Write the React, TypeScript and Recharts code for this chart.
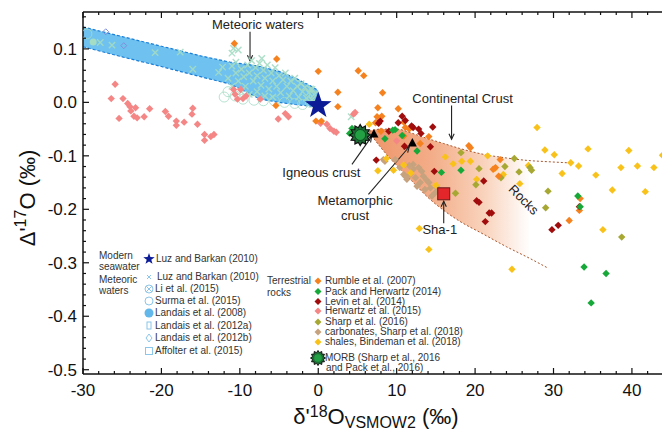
import React from 'react';
import { ComposedChart, XAxis, YAxis, Scatter, Area, Line, ReferenceLine } from 'recharts';

// axis setup
const X_DOMAIN = [-30, 44.6];
const Y_DOMAIN = [-0.508, 0.169];
const xMajor = [-30, -20, -10, 0, 10, 20, 30, 40];
const yMajor = [0.1, 0.0, -0.1, -0.2, -0.3, -0.4, -0.5];

const minorTicks = (from: number, to: number, step: number) => {
  const out: number[] = [];
  for (let v = from; v <= to + 1e-9; v += step) out.push(Math.round(v * 1000) / 1000);
  return out;
};
const xTicks = minorTicks(-30, 44, 2);
const yTicks = minorTicks(-0.5, 0.16, 0.02);

// meteoric water band (lower / upper edge)
const bandX = [-30, -25, -20, -15, -11.2, -9, -7.4, -5, -3, -1, 0];
const bandUpper = [0.141, 0.123, 0.105, 0.087, 0.075, 0.071, 0.067, 0.058, 0.046, 0.031, 0.022];
const bandLower = [0.104, 0.085, 0.067, 0.048, 0.034, 0.018, 0.006, 0.0, -0.004, -0.007, -0.008];

// rocks wedge
const rockX = [6.5, 8, 10, 12, 14, 16, 18, 21, 24, 27, 29.3];
const rockUpper = [-0.054, -0.05, -0.05, -0.058, -0.068, -0.077, -0.086, -0.097, -0.104, -0.109, -0.111];
const rockLower = [-0.056, -0.085, -0.118, -0.148, -0.178, -0.202, -0.222, -0.246, -0.27, -0.292, -0.31];
const rockUpperTail = [31.8, -0.113];

// meteoric waters
const meteoricX = [
  [-26.3, 0.107], [-20.8, 0.093], [-17.6, 0.094], [-16.0, 0.062], [-12.7, 0.056], [-12.2, 0.066],
  [-11.0, 0.068], [-10.8, 0.101], [-10.2, 0.098], [-11.0, 0.092], [-27.8, 0.112],
  [-11.5, 0.045], [-11.0, 0.03], [-10.5, 0.055], [-10.2, 0.04], [-9.8, 0.062], [-9.5, 0.048],
  [-9.3, 0.03], [-9.0, 0.07], [-8.8, 0.055], [-8.5, 0.078], [-8.3, 0.04], [-8.0, 0.065],
  [-7.8, 0.05], [-7.5, 0.073], [-7.3, 0.032], [-7.0, 0.06], [-6.8, 0.045], [-6.5, 0.07],
  [-6.3, 0.025], [-6.0, 0.055], [-5.8, 0.04], [-5.5, 0.065], [-5.3, 0.03], [-5.0, 0.05],
  [-4.8, 0.018], [-4.5, 0.042], [-4.2, 0.055], [-4.0, 0.03], [-3.7, 0.012], [-3.5, 0.04],
  [-3.2, 0.022], [-3.0, 0.045], [-2.7, 0.03], [-2.5, 0.01], [-2.2, 0.035], [-2.0, 0.02],
  [-1.7, 0.028], [-1.5, 0.008], [-1.2, 0.018], [-1.0, 0.025], [-0.8, 0.005], [-0.5, 0.015],
  [-9.8, 0.02], [-8.8, 0.015], [-7.8, 0.02], [-6.8, 0.012], [-5.8, 0.01], [-10.5, 0.075],
  [-7.2, 0.082], [4.2, -0.027], [-0.8, 0.024],
];
const meteoricO = [
  [-29.5, 0.128], [-10.6, 0.012], [-9.6, 0.006], [-8.2, 0.004], [-7.0, 0.003], [-5.6, 0.003],
  [-4.3, 0.0], [-3.0, -0.002], [-2.0, -0.004], [-1.0, 0.0], [-0.5, 0.012], [-11.5, 0.02], [-12, 0.01],
];
const landais2008 = [[-28.7, 0.113]];
const landais2012b = [[-27.1, 0.132], [-24.8, 0.106]];

// terrestrial rocks
const rumble = [
  [-10.7, 0.11], [-5.3, 0.081], [0.0, 0.058], [-5.4, -0.006], [-0.3, -0.035], [0.4, -0.035],
  [5.1, 0.059], [5.8, 0.05], [2.5, 0.019], [8.2, 0.018], [2.5, -0.008], [7.6, -0.01],
  [10.2, -0.012], [8.1, -0.026], [7.5, -0.027], [7.3, -0.038], [10.9, -0.037], [11.1, -0.047],
  [10.9, -0.063], [8.0, -0.054], [13.0, -0.077], [14.1, -0.064], [19.2, -0.081], [19.4, -0.085],
  [23.2, -0.107], [22.3, -0.125], [22.6, -0.122], [23.0, -0.138], [33.4, -0.18], [33.3, -0.202],
  [32.0, -0.221], [11.6, -0.05],
];
const packHerwartz = [
  [4.3, -0.049], [9.8, -0.051], [10.7, -0.062], [8.5, -0.068], [9.5, -0.052], [12.6, -0.091],
  [15.7, -0.131], [18.2, -0.127], [33.1, -0.175], [33.4, -0.195], [33.9, -0.308], [36.7, -0.32],
  [34.8, -0.375], [4.0, -0.058],
];
const levin = [
  [7.9, -0.035], [7.7, -0.039], [10.7, -0.026], [11.1, -0.034], [12.1, -0.047], [14.6, -0.046],
  [9.0, -0.054], [13.1, -0.058], [11.0, -0.082], [14.3, -0.083], [7.4, -0.108], [14.8, -0.129],
  [21.1, -0.147], [20.2, -0.184], [20.5, -0.187], [21.8, -0.207], [22.1, -0.207], [21.3, -0.223],
  [29.8, -0.238], [30.6, -0.23], [33.3, -0.195], [10.2, -0.038], [11.9, -0.044], [12.8, -0.05],
];
const herwartz = [
  [-25.9, 0.034], [-26.4, 0.007], [-25.4, -0.03], [-24.9, 0.007], [-24.3, -0.002], [-24.0, -0.008],
  [-23.9, -0.016], [-23.3, -0.01], [-23.5, -0.026], [-23.1, -0.029], [-22.2, -0.027], [-21.5, -0.012],
  [-19.5, -0.017], [-19.1, -0.026], [-18.1, -0.035], [-18.1, -0.043], [-17.1, -0.037], [-16.0, -0.011],
  [-16.1, -0.022], [-15.4, -0.041], [-14.5, -0.06], [-14.5, -0.071], [-13.7, -0.064], [-13.3, -0.06],
  [-10.8, 0.024], [-10.6, 0.015], [-9.6, 0.007], [-9.2, 0.012], [-10.3, 0.006], [-9.9, 0.024],
  [-7.4, 0.006], [-5.1, -0.031], [-4.2, -0.021], [-3.8, -0.027], [1.1, -0.041], [1.5, -0.049],
  [2.0, -0.054], [2.3, -0.056], [4.5, -0.022], [4.7, -0.019], [0.3, -0.039], [10.0, -0.072],
];
const sharp2016 = [
  [18.2, -0.094], [20.5, -0.124], [23.8, -0.12], [23.3, -0.141], [25.6, -0.13], [27.0, -0.122],
  [27.2, -0.127], [25.0, -0.105], [17.5, -0.17], [29.3, -0.166], [29.0, -0.197], [20.1, -0.154],
  [38.7, -0.252],
];
const carbonates = [
  [9.8, -0.107], [10.4, -0.122], [11.3, -0.144], [12.1, -0.125], [12.8, -0.122], [12.4, -0.141],
  [13.4, -0.138], [13.0, -0.15], [14.1, -0.15], [14.3, -0.16], [14.9, -0.169], [13.6, -0.163],
  [14.5, -0.175], [11.7, -0.135], [12.6, -0.157], [13.2, -0.129], [12.1, -0.116], [10.9, -0.135],
  [8.3, -0.107], [8.5, -0.11], [11.1, -0.138], [11.6, -0.118], [13.8, -0.145], [15.2, -0.16],
];
const shales = [
  [6.5, -0.041], [7.6, -0.128], [8.7, -0.105], [9.6, -0.127], [10.9, -0.117], [11.8, -0.132],
  [15.0, -0.155], [16.2, -0.102], [17.2, -0.115], [18.3, -0.11], [19.4, -0.11], [21.6, -0.1],
  [22.5, -0.124], [23.6, -0.135], [25.7, -0.152], [26.8, -0.118], [27.9, -0.047], [28.9, -0.089],
  [30.1, -0.098], [31.1, -0.133], [32.2, -0.113], [33.2, -0.119], [34.4, -0.087], [35.4, -0.136],
  [37.5, -0.164], [38.6, -0.122], [39.6, -0.09], [40.7, -0.119], [41.7, -0.167], [42.8, -0.122],
  [43.9, -0.099], [36.3, -0.238], [24.7, -0.312], [12.9, -0.236], [14.1, -0.275], [20.2, -0.144],
];
const seawater = [[0.0, -0.006]];
const morb = [[5.35, -0.061]];
const crustTriangles = [[7.1, -0.059], [12.0, -0.076]];
const sha1 = [[16.0, -0.171]];

// annotations
const notes = [
  { x: -7.7, y: 0.146, text: 'Meteoric waters', rot: 0 },
  { x: 18.4, y: 0.0075, text: 'Continental Crust', rot: 0 },
  { x: 0.4, y: -0.131, text: 'Igneous crust', rot: 0 },
  { x: 4.7, y: -0.183, text: 'Metamorphic', rot: 0 },
  { x: 4.7, y: -0.212, text: 'crust', rot: 0 },
  { x: 15.5, y: -0.237, text: 'Sha-1', rot: 0 },
  { x: 26.2, y: -0.182, text: 'Rocks', rot: 45 },
];
const arrows = [
  [[-8.7, 0.132], [-8.7, 0.078]],
  [[17.0, -0.006], [17.0, -0.069]],
  [[4.3, -0.116], [6.8, -0.064]],
  [[6.4, -0.172], [11.6, -0.083]],
  [[16.0, -0.226], [16.0, -0.185]],
];

const waterLegend = [
  'Luz and Barkan (2010)', 'Li et al. (2015)', 'Surma et al. (2015)', 'Landais et al. (2008)',
  'Landais et al. (2012a)', 'Landais et al. (2012b)', 'Affolter et al. (2015)',
];
const rockLegend = [
  'Rumble et al. (2007)', 'Pack and Herwartz (2014)', 'Levin et al. (2014)', 'Herwartz et al. (2015)',
  'Sharp et al. (2016)', 'carbonates, Sharp et al. (2018)', 'shales, Bindeman et al. (2018)',
];

const C = {
  rumble: '#f5821f', pack: '#17a83a', levin: '#a10c0c', herwartz: '#f58686',
  sharp: '#a6a833', carb: '#c6a27e', shale: '#f9c21b', mint: '#a4dcc4', legendBlue: '#8cc6ea',
};

const pts = (a: number[][]) => a.map(([x, y]) => ({ x, y }));
const bandData = bandX.map((x, i) => ({ x, band: [bandLower[i], bandUpper[i]] }));
const rockData = rockX.map((x, i) => ({ x, band: [rockLower[i], rockUpper[i]] }));
const rockUpperLine = [...rockX.map((x, i) => ({ x, y: rockUpper[i] })), { x: rockUpperTail[0], y: rockUpperTail[1] }];
const rockLowerLine = rockX.map((x, i) => ({ x, y: rockLower[i] }));

const starPts = (cx: number, cy: number, ro: number, ri: number, n: number) => {
  const p: string[] = [];
  for (let i = 0; i < n * 2; i++) {
    const r = i % 2 === 0 ? ro : ri;
    const a = -Math.PI / 2 + (i * Math.PI) / n;
    p.push(`${cx + r * Math.cos(a)},${cy + r * Math.sin(a)}`);
  }
  return p.join(' ');
};

const diamond = (color: string) => (p: any) => {
  const { cx, cy } = p;
  if (cx == null || cy == null) return <g />;
  const r = 3.7;
  return <polygon points={`${cx},${cy - r} ${cx + r},${cy} ${cx},${cy + r} ${cx - r},${cy}`} fill={color} />;
};
const crossShape = (p: any) => {
  const { cx, cy } = p;
  const r = 3.2;
  return (
    <g stroke={C.mint} strokeWidth={1.4} opacity={0.9}>
      <line x1={cx - r} y1={cy - r} x2={cx + r} y2={cy + r} />
      <line x1={cx - r} y1={cy + r} x2={cx + r} y2={cy - r} />
    </g>
  );
};
const openCircle = (p: any) => <circle cx={p.cx} cy={p.cy} r={5} fill="none" stroke={C.mint} strokeWidth={1} opacity={0.8} />;
const filledMint = (p: any) => <circle cx={p.cx} cy={p.cy} r={3.5} fill={C.mint} />;
const openDiamond = (p: any) => {
  const { cx, cy } = p;
  const r = 3;
  return <polygon points={`${cx},${cy - r} ${cx + r},${cy} ${cx},${cy + r} ${cx - r},${cy}`} fill="none" stroke="#7f8fd8" strokeWidth={1} />;
};
const seaStar = (p: any) => <polygon points={starPts(p.cx, p.cy, 14, 5.6, 5)} fill="#0b1c96" />;
const morbShape = (p: any) => (
  <g>
    <polygon points={starPts(p.cx, p.cy, 10.5, 7.5, 12)} fill="#1d6e35" stroke="#111" strokeWidth={1.2} />
    <circle cx={p.cx} cy={p.cy} r={5.5} fill="#24a044" stroke="#0b3b1a" strokeWidth={0.8} />
  </g>
);
const triShape = (p: any) => (
  <polygon points={`${p.cx},${p.cy - 5} ${p.cx + 4.5},${p.cy + 3.5} ${p.cx - 4.5},${p.cy + 3.5}`} fill="#000" />
);
const squareShape = (p: any) => (
  <rect x={p.cx - 6} y={p.cy - 6} width={12} height={12} fill="#e3262a" stroke="#6b1a1a" strokeWidth={1} />
);
const noteShape = (p: any) => {
  const { cx, cy, payload } = p;
  return (
    <text
      x={cx}
      y={cy}
      textAnchor="middle"
      dominantBaseline="central"
      fontSize={13}
      fill="#222"
      transform={payload.rot ? `rotate(${payload.rot} ${cx} ${cy})` : undefined}
    >
      {payload.text}
    </text>
  );
};
const Arrow = (props: any) => {
  const { x1, y1, x2, y2 } = props;
  const ang = Math.atan2(y2 - y1, x2 - x1);
  const L = 6;
  const a = 0.45;
  const p1 = `${x2 - L * Math.cos(ang - a)},${y2 - L * Math.sin(ang - a)}`;
  const p2 = `${x2 - L * Math.cos(ang + a)},${y2 - L * Math.sin(ang + a)}`;
  return (
    <g stroke="#222" strokeWidth={1.1} fill="none">
      <line x1={x1} y1={y1} x2={x2} y2={y2} />
      <polyline points={`${p1} ${x2},${y2} ${p2}`} />
    </g>
  );
};

const near = (v: number, list: number[]) => list.some((m) => Math.abs(m - v) < 1e-6);
const fmtY = (v: number) => (Math.abs(v) < 1e-9 ? '0.0' : v.toFixed(1));

const BottomTick = (p: any) => {
  const v = p.payload.value;
  const major = near(v, xMajor);
  return (
    <g>
      <line x1={p.x} x2={p.x} y1={p.y} y2={p.y - (major ? 6 : 3)} stroke="#111" strokeWidth={1.2} />
      {major && (
        <text x={p.x} y={p.y + 22} textAnchor="middle" fontSize={17} fill="#111">
          {v}
        </text>
      )}
    </g>
  );
};
const TopTick = (p: any) => {
  const major = near(p.payload.value, xMajor);
  return <line x1={p.x} x2={p.x} y1={p.y} y2={p.y + (major ? 6 : 3)} stroke="#111" strokeWidth={1.2} />;
};
const LeftTick = (p: any) => {
  const v = p.payload.value;
  const major = near(v, yMajor);
  return (
    <g>
      <line x1={p.x} x2={p.x + (major ? 6 : 3)} y1={p.y} y2={p.y} stroke="#111" strokeWidth={1.2} />
      {major && (
        <text x={p.x - 6} y={p.y + 6} textAnchor="end" fontSize={17} fill="#111">
          {fmtY(v)}
        </text>
      )}
    </g>
  );
};
const RightTick = (p: any) => {
  const major = near(p.payload.value, yMajor);
  return <line x1={p.x} x2={p.x - (major ? 6 : 3)} y1={p.y} y2={p.y} stroke="#111" strokeWidth={1.2} />;
};

const axisLine = { stroke: '#111', strokeWidth: 1.5 };
const ids = { xAxisId: 'b', yAxisId: 'l' };

// legend layout (pixels)
const waterRowsY = [277, 289, 301, 313, 325.5, 338, 351];
const rockRowsY = [281, 291.5, 301.5, 311, 322, 332, 342];

const LegendIcon = ({ kind, x, y }: { kind: number; x: number; y: number }) => {
  const s = C.legendBlue;
  switch (kind) {
    case 0:
      return (
        <g stroke={s} strokeWidth={1}>
          <line x1={x - 2} y1={y - 2} x2={x + 2} y2={y + 2} />
          <line x1={x - 2} y1={y + 2} x2={x + 2} y2={y - 2} />
        </g>
      );
    case 1:
      return (
        <g stroke={s} strokeWidth={1} fill="none">
          <circle cx={x} cy={y} r={4} />
          <line x1={x - 2.8} y1={y - 2.8} x2={x + 2.8} y2={y + 2.8} />
          <line x1={x - 2.8} y1={y + 2.8} x2={x + 2.8} y2={y - 2.8} />
        </g>
      );
    case 2:
      return <circle cx={x} cy={y} r={4} fill="none" stroke={s} strokeWidth={1} />;
    case 3:
      return <circle cx={x} cy={y} r={4.5} fill="#62b8ea" />;
    case 4:
      return <rect x={x - 2} y={y - 3.5} width={4} height={7} fill="none" stroke={s} strokeWidth={1} />;
    case 5:
      return <polygon points={`${x},${y - 4} ${x + 3},${y} ${x},${y + 4} ${x - 3},${y}`} fill="none" stroke={s} strokeWidth={1} />;
    default:
      return <rect x={x - 3.5} y={y - 3.5} width={7} height={7} fill="none" stroke={s} strokeWidth={1} />;
  }
};

const rockColors = [C.rumble, C.pack, C.levin, C.herwartz, C.sharp, C.carb, C.shale];

const txt = (left: number, cy: number, s: string, key?: string | number) => (
  <div key={key} style={{ position: 'absolute', left, top: cy - 6, fontSize: 10, lineHeight: '12px', color: '#333', whiteSpace: 'nowrap' }}>
    {s}
  </div>
);

export default function App() {
  return (
    <div
      style={{
        position: 'relative',
        width: 670,
        height: 431,
        margin: '-8px 0 0 -8px',
        background: '#fff',
        fontFamily: '"Liberation Sans", Arial, sans-serif',
      }}
    >
      <ComposedChart width={670} height={431} margin={{ top: 11, right: 1, bottom: 0, left: 23 }}>
        <defs>
          <linearGradient id="rockGrad" x1="0" y1="0" x2="1" y2="0">
            <stop offset="0%" stopColor="#ee956a" />
            <stop offset="35%" stopColor="#f3ad88" />
            <stop offset="65%" stopColor="#f9d4be" />
            <stop offset="90%" stopColor="#ffffff" />
          </linearGradient>
        </defs>
        <XAxis xAxisId="b" type="number" dataKey="x" domain={X_DOMAIN} ticks={xTicks} interval={0} allowDataOverflow
          tickSize={0} tickMargin={0} tickLine={false} tick={BottomTick} height={57} axisLine={axisLine} />
        <XAxis xAxisId="t" orientation="top" type="number" dataKey="x" domain={X_DOMAIN} ticks={xTicks} interval={0} allowDataOverflow
          tickSize={0} tickMargin={0} tickLine={false} tick={TopTick} height={1} axisLine={axisLine} />
        <YAxis yAxisId="l" type="number" dataKey="y" domain={Y_DOMAIN} ticks={yTicks} interval={0} allowDataOverflow
          tickSize={0} tickMargin={0} tickLine={false} tick={LeftTick} width={60} axisLine={axisLine} />
        <YAxis yAxisId="r" orientation="right" type="number" dataKey="y" domain={Y_DOMAIN} ticks={yTicks} interval={0} allowDataOverflow
          tickSize={0} tickMargin={0} tickLine={false} tick={RightTick} width={1} axisLine={axisLine} />

        <Area {...ids} data={bandData} dataKey="band" type="linear" fill="#6fc2ef" fillOpacity={1}
          stroke="#1a7fd8" strokeWidth={1.2} strokeDasharray="3 2" isAnimationActive={false} dot={false} activeDot={false} />
        <Area {...ids} data={rockData} dataKey="band" type="monotone" fill="url(#rockGrad)" fillOpacity={1}
          stroke="none" isAnimationActive={false} dot={false} activeDot={false} />
        <Line {...ids} data={rockUpperLine} dataKey="y" type="monotone" stroke="#a8562c" strokeWidth={1} strokeDasharray="2 2"
          dot={false} activeDot={false} isAnimationActive={false} />
        <Line {...ids} data={rockLowerLine} dataKey="y" type="monotone" stroke="#a8562c" strokeWidth={1} strokeDasharray="2 2"
          dot={false} activeDot={false} isAnimationActive={false} />

        <Scatter {...ids} data={pts(meteoricO)} shape={openCircle} isAnimationActive={false} />
        <Scatter {...ids} data={pts(meteoricX)} shape={crossShape} isAnimationActive={false} />
        <Scatter {...ids} data={pts(landais2008)} shape={filledMint} isAnimationActive={false} />
        <Scatter {...ids} data={pts(landais2012b)} shape={openDiamond} isAnimationActive={false} />

        <Scatter {...ids} data={pts(carbonates)} shape={diamond(C.carb)} isAnimationActive={false} />
        <Scatter {...ids} data={pts(herwartz)} shape={diamond(C.herwartz)} isAnimationActive={false} />
        <Scatter {...ids} data={pts(shales)} shape={diamond(C.shale)} isAnimationActive={false} />
        <Scatter {...ids} data={pts(sharp2016)} shape={diamond(C.sharp)} isAnimationActive={false} />
        <Scatter {...ids} data={pts(rumble)} shape={diamond(C.rumble)} isAnimationActive={false} />
        <Scatter {...ids} data={pts(levin)} shape={diamond(C.levin)} isAnimationActive={false} />
        <Scatter {...ids} data={pts(packHerwartz)} shape={diamond(C.pack)} isAnimationActive={false} />

        <Scatter {...ids} data={pts(crustTriangles)} shape={triShape} isAnimationActive={false} />
        <Scatter {...ids} data={pts(sha1)} shape={squareShape} isAnimationActive={false} />
        <Scatter {...ids} data={pts(morb)} shape={morbShape} isAnimationActive={false} />
        <Scatter {...ids} data={pts(seawater)} shape={seaStar} isAnimationActive={false} />

        {arrows.map(([a, b], i) => (
          <ReferenceLine key={i} {...ids} segment={[{ x: a[0], y: a[1] }, { x: b[0], y: b[1] }]} shape={Arrow} ifOverflow="visible" />
        ))}
        <Scatter {...ids} data={notes} shape={noteShape} isAnimationActive={false} />
      </ComposedChart>

      {/* legend icons */}
      <svg width={670} height={431} style={{ position: 'absolute', left: 0, top: 0, pointerEvents: 'none' }}>
        <polygon points={starPts(149, 259, 6, 2.4, 5)} fill="#0b1c96" />
        {waterLegend.map((_, i) => (
          <LegendIcon key={i} kind={i} x={149} y={waterRowsY[i]} />
        ))}
        {rockColors.map((c, i) => {
          const y = rockRowsY[i];
          return <polygon key={i} points={`318,${y - 3.5} 321.5,${y} 318,${y + 3.5} 314.5,${y}`} fill={c} />;
        })}
        <polygon points={starPts(318, 358, 7.5, 5.5, 12)} fill="#1d6e35" stroke="#111" strokeWidth={1} />
        <circle cx={318} cy={358} r={3.8} fill="#24a044" />
      </svg>

      {txt(99, 256, 'Modern')}
      {txt(99, 267, 'seawater')}
      {txt(99, 279.5, 'Meteoric')}
      {txt(99, 291, 'waters')}
      {txt(156, 259, 'Luz and Barkan (2010)')}
      {waterLegend.map((s, i) => txt(i === 0 ? 157 : 155, waterRowsY[i], s, 'w' + i))}
      {txt(267, 281, 'Terrestrial')}
      {txt(267, 292.5, 'rocks')}
      {rockLegend.map((s, i) => txt(325, rockRowsY[i], s, 'r' + i))}
      {txt(325, 357.5, 'MORB (Sharp et al., 2016')}
      {txt(326, 367.5, 'and Pack et al., 2016)')}

      {/* axis titles */}
      <div style={{ position: 'absolute', left: 376, top: 406, transform: 'translateX(-50%)', fontSize: 22, lineHeight: '22px', color: '#111', whiteSpace: 'nowrap' }}>
        δ'<span style={{ fontSize: 16, position: 'relative', top: -7 }}>18</span>O
        <span style={{ fontSize: 16, position: 'relative', top: 4 }}>VSMOW2</span> (‰)
      </div>
      <div style={{ position: 'absolute', left: 29, top: 198, transform: 'translate(-50%, -50%) rotate(-90deg)', fontSize: 22, lineHeight: '26px', color: '#111', whiteSpace: 'nowrap' }}>
        Δ'<span style={{ fontSize: 16, position: 'relative', top: -9 }}>17</span>O (‰)
      </div>
    </div>
  );
}
